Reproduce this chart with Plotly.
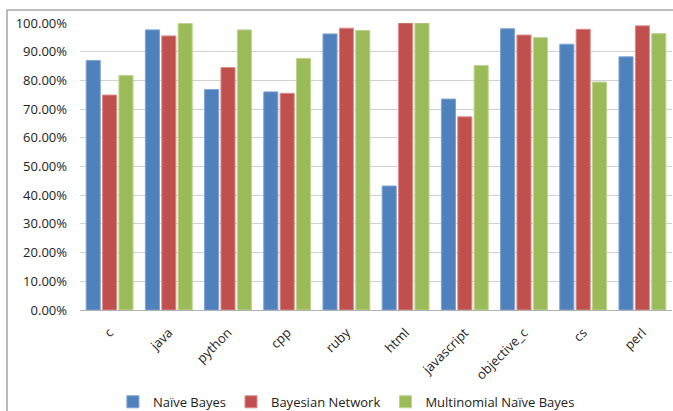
import plotly.graph_objects as go

categories = ["c", "java", "python", "cpp", "ruby", "html", "javascript",
              "objective_c", "cs", "perl"]
naive_bayes = [0.869, 0.976, 0.768, 0.760, 0.962, 0.432, 0.735, 0.980, 0.926, 0.882]
bayesian_network = [0.749, 0.955, 0.845, 0.755, 0.982, 1.000, 0.673, 0.958, 0.978, 0.990]
multinomial_nb = [0.817, 0.999, 0.976, 0.876, 0.974, 1.000, 0.852, 0.949, 0.794, 0.963]
y_ticks = [i / 10 for i in range(11)]
y_tick_labels = [f"{v * 100:.2f}%" for v in y_ticks]

series = [
    ("Naïve Bayes", naive_bayes, "#4F81BD", "#7ea3d3"),
    ("Bayesian Network", bayesian_network, "#C0504D", "#dc8c8a"),
    ("Multinomial Naïve Bayes", multinomial_nb, "#9BBB59", "#bcd48e"),
]

fig = go.Figure()
for name, vals, color, edge in series:
    fig.add_trace(go.Bar(
        x=categories, y=vals, name=name,
        marker=dict(color=color, line=dict(color=edge, width=1)),
    ))

font_family = "'Open Sans', sans-serif"
fig.update_layout(
    width=673, height=411,
    margin=dict(l=80, r=1, t=23, b=101, autoexpand=False),
    paper_bgcolor="white", plot_bgcolor="white",
    barmode="group", bargap=0.17, bargroupgap=0.14,
    font=dict(family=font_family, size=13, color="#222222"),
    showlegend=True,
    legend=dict(orientation="h", x=0.45, xanchor="center", y=-0.32,
                yanchor="middle", font=dict(size=13), itemwidth=30,
                traceorder="normal"),
    xaxis=dict(tickangle=-45, showgrid=False, ticks="",
               showline=True, linecolor="#b0b0b0", linewidth=1,
               tickfont=dict(size=13), ticklabelstandoff=9),
    yaxis=dict(range=[0, 1], tickvals=y_ticks, ticktext=y_tick_labels,
               showgrid=True, gridcolor="#d0d0d0", gridwidth=1,
               zeroline=False, showline=False, ticks="",
               tickfont=dict(size=13), ticklabelstandoff=12),
    shapes=[dict(type="rect", xref="paper", yref="paper",
                 x0=-0.1233, x1=1.03, y0=-0.5, y1=1.045,
                 line=dict(color="#a6a6a6", width=1.5))],
)

fig.write_html("out.html")
